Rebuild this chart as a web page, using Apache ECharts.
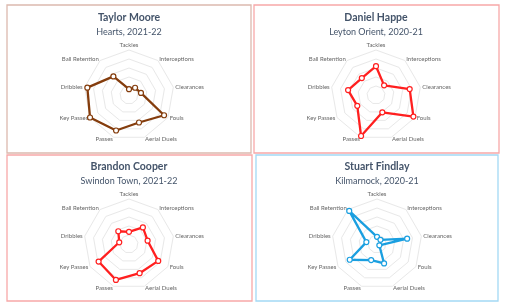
<!DOCTYPE html>
<html><head><meta charset="utf-8">
<script src="https://cdn.jsdelivr.net/npm/echarts@6/dist/echarts.min.js"></script>
<style>html,body{margin:0;padding:0;background:#fff}#c{width:505px;height:307px}</style>
</head><body><div id="c"></div>
<script>
// Axis categories in clockwise order starting at top
var categories = ['Tackles','Interceptions','Clearances','Fouls','Aerial Duels','Passes','Key Passes','Dribbles','Ball Retention'];
var players = ['Taylor Moore','Daniel Happe','Brandon Cooper','Stuart Findlay'];
var clubs = ['Hearts, 2021-22','Leyton Orient, 2020-21','Swindon Town, 2021-22','Kilmarnock, 2020-21'];
// Percentile values, same order as categories
var taylorMoore   = [13, 21, 27, 90, 65, 84, 100, 94, 54];
var danielHappe   = [64, 28, 76, 96, 41, 97, 48, 63, 49];
var brandonCooper = [27, 48, 42, 75, 69, 85, 78, 22, 37];
var stuartFindlay = [16, 12, 68, 6, 46, 38, 70, 24, 96];

var seriesValues = [taylorMoore, danielHappe, brandonCooper, stuartFindlay];
var colors = ['#843c0c', '#ff1f1f', '#ff1f1f', '#1a9fe0'];
var borderColors = ['#dcb9ae', '#f7a8a8', '#f7a8a8', '#a3d9f5'];
var centers = [[129, 95], [376, 95], [129, 244], [377, 244]];
var boxes = [[7, 5, 244, 148], [254, 5, 245, 148], [7, 155, 245, 146], [256, 155, 242, 146]];
var titleY = [11, 11, 160, 160];

// ECharts lays indicators out counter-clockwise; reorder to get clockwise
function ccwOrder(arr) { return [arr[0]].concat(arr.slice(1).reverse()); }

var chart = echarts.init(document.getElementById('c'), null, {renderer: 'canvas'});
var radars = [], series = [], titles = [], graphics = [];
for (var i = 0; i < 4; i++) {
  radars.push({
    center: centers[i], radius: 45, startAngle: 90, splitNumber: 5, shape: 'polygon',
    indicator: ccwOrder(categories).map(function (n) { return {name: n, min: 0, max: 100}; }),
    axisName: {color: '#666666', fontSize: 6, fontFamily: 'Lato'},
    nameGap: 2,
    splitLine: {lineStyle: {color: '#e8e8e8', width: 1}},
    splitArea: {show: false},
    axisLine: {show: false},
    axisTick: {show: false}, axisLabel: {show: false}
  });
  series.push({
    type: 'radar', radarIndex: i, symbol: 'circle', symbolSize: 5,
    lineStyle: {color: colors[i], width: 2.3},
    itemStyle: {color: '#ffffff', borderColor: colors[i], borderWidth: 1.2},
    data: [{value: ccwOrder(seriesValues[i]), name: players[i]}]
  });
  titles.push({
    text: players[i], subtext: clubs[i],
    left: centers[i][0], top: titleY[i], textAlign: 'center', padding: 0, itemGap: 1,
    textStyle: {color: '#44546a', fontSize: 10.5, fontWeight: 'bold', fontFamily: 'Lato', lineHeight: 14},
    subtextStyle: {color: '#44546a', fontSize: 9, fontFamily: 'Lato', lineHeight: 12}
  });
  graphics.push({
    type: 'rect', shape: {x: boxes[i][0], y: boxes[i][1], width: boxes[i][2], height: boxes[i][3]},
    style: {fill: null, stroke: borderColors[i], lineWidth: 1.3}, silent: true
  });
}
chart.setOption({
  animation: false,
  backgroundColor: '#ffffff',
  title: titles,
  radar: radars,
  series: series,
  graphic: graphics
});
</script></body></html>
